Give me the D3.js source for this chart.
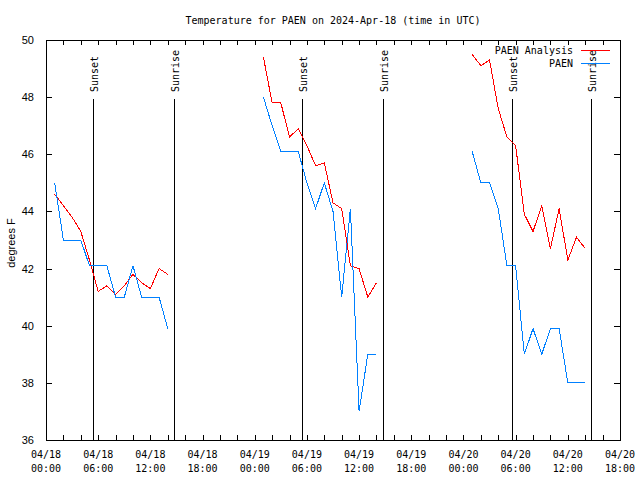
<!DOCTYPE html>
<html>
<head>
<meta charset="utf-8">
<script src="https://cdn.jsdelivr.net/npm/d3@7"></script>
<style>
  body { margin: 0; background: #fff; }
  svg { display: block; }
  .mono { font-family: "DejaVu Sans Mono", "Liberation Mono", monospace; font-size: 10px; fill: #000; }
  .sans { font-family: "Liberation Sans", Arial, sans-serif; font-size: 11px; fill: #000; }
</style>
</head>
<body>
<svg id="chart" width="640" height="480"></svg>
<script>
// ---- data ----
const days = ["2024-04-18", "2024-04-19", "2024-04-20"];
const hours = ["01:00","02:00","03:00","04:00","05:00","06:00","07:00","08:00","09:00","10:00","11:00","12:00","13:00","14:00"];
const analysisTemps = [
  [44.6, 44.2, 43.8, 43.3, 42.3, 41.2, 41.4, 41.1, 41.4, 41.8, 41.5, 41.3, 42.0, 41.8],
  [49.4, 47.8, 47.8, 46.6, 46.9, 46.3, 45.6, 45.7, 44.3, 44.1, 42.1, 42.0, 41.0, 41.5],
  [49.5, 49.1, 49.3, 47.6, 46.6, 46.3, 43.9, 43.3, 44.2, 42.7, 44.1, 42.3, 43.1, 42.7]
];
const paenTemps = [
  [45.0, 43.0, 43.0, 43.0, 42.1, 42.1, 42.1, 41.0, 41.0, 42.1, 41.0, 41.0, 41.0, 39.9],
  [48.0, 47.0, 46.1, 46.1, 46.1, 45.0, 44.1, 45.0, 44.0, 41.0, 44.1, 37.0, 39.0, 39.0],
  [46.1, 45.0, 45.0, 44.1, 42.1, 42.1, 39.0, 39.9, 39.0, 39.9, 39.9, 38.0, 38.0, 38.0]
];
const seriesNames = ["PAEN Analysis", "PAEN"];
const seriesColors = ["#ff0000", "#0080ff"];
const sunEvents = [
  { label: "Sunset",  time: "2024-04-18T05:30:00Z" },
  { label: "Sunrise", time: "2024-04-18T14:49:00Z" },
  { label: "Sunset",  time: "2024-04-19T05:32:00Z" },
  { label: "Sunrise", time: "2024-04-19T14:50:00Z" },
  { label: "Sunset",  time: "2024-04-20T05:40:00Z" },
  { label: "Sunrise", time: "2024-04-20T14:45:00Z" }
];
const xDomain = ["2024-04-18T00:00:00Z", "2024-04-20T18:00:00Z"];
const yDomain = [36, 50];
const yTicks = [36, 38, 40, 42, 44, 46, 48, 50];
const titleText = "Temperature for PAEN on 2024-Apr-18 (time in UTC)";
const yLabel = "degrees F";

// ---- layout ----
const L = 46, R = 620, T = 40, B = 440;
const svg = d3.select("#chart");
svg.append("rect").attr("width", 640).attr("height", 480).attr("fill", "#fff");

const x = d3.scaleUtc().domain(xDomain.map(d => new Date(d))).range([L, R]);
const y = d3.scaleLinear().domain(yDomain).range([B, T]);

// ticks
const minorTicks = d3.utcHour.every(2).range(x.domain()[0], new Date(+x.domain()[1] + 1));
const labelTicks = d3.utcHour.every(6).range(x.domain()[0], new Date(+x.domain()[1] + 1));

const gx = svg.append("g").attr("shape-rendering", "crispEdges");
// bottom axis ticks (inward)
const bottomAxis = d3.axisBottom(x).tickValues(minorTicks).tickSizeInner(-5).tickSizeOuter(0).tickFormat("");
svg.append("g").attr("transform", `translate(0,${B})`).call(bottomAxis)
  .call(g => g.select(".domain").remove())
  .call(g => g.selectAll("line").attr("stroke", "#000").attr("shape-rendering", "crispEdges"));
const topAxis = d3.axisTop(x).tickValues(minorTicks).tickSizeInner(-5).tickSizeOuter(0).tickFormat("");
svg.append("g").attr("transform", `translate(0,${T})`).call(topAxis)
  .call(g => g.select(".domain").remove())
  .call(g => g.selectAll("line").attr("stroke", "#000").attr("shape-rendering", "crispEdges"));

// bottom labels (two lines)
const fmtDate = d3.utcFormat("%m/%d"), fmtTime = d3.utcFormat("%H:%M");
const lbl = svg.append("g");
labelTicks.forEach(t => {
  const tx = lbl.append("text").attr("class", "mono").attr("text-anchor", "middle")
    .attr("x", x(t)).attr("y", 458);
  tx.append("tspan").attr("x", x(t)).attr("y", 458).text(fmtDate(t));
  tx.append("tspan").attr("x", x(t)).attr("y", 472).text(fmtTime(t));
});

// y axis
const leftAxis = d3.axisLeft(y).tickValues(yTicks).tickSizeInner(-6).tickSizeOuter(0).tickPadding(12).tickFormat(d3.format("d"));
svg.append("g").attr("transform", `translate(${L},0)`).call(leftAxis)
  .call(g => g.select(".domain").remove())
  .call(g => g.selectAll("line").attr("stroke", "#000").attr("shape-rendering", "crispEdges"))
  .call(g => g.selectAll("text").attr("class", "sans").attr("font-family", null).attr("font-size", null).attr("fill", "#000"));
const rightAxis = d3.axisRight(y).tickValues(yTicks).tickSizeInner(-6).tickSizeOuter(0).tickFormat("");
svg.append("g").attr("transform", `translate(${R},0)`).call(rightAxis)
  .call(g => g.select(".domain").remove())
  .call(g => g.selectAll("line").attr("stroke", "#000").attr("shape-rendering", "crispEdges"));

// sunrise / sunset lines
sunEvents.forEach(ev => {
  const xp = x(new Date(ev.time));
  svg.append("line").attr("x1", xp).attr("x2", xp).attr("y1", 99).attr("y2", B)
    .attr("stroke", "#000").attr("stroke-width", 1).attr("shape-rendering", "crispEdges");
  svg.append("text").attr("class", "mono")
    .attr("transform", `translate(${xp + 4.5},92) rotate(-90)`)
    .attr("text-anchor", "start").text(ev.label);
});

// series
const parseT = d3.utcParse("%Y-%m-%d %H:%M");
const line = d3.line().x(d => x(d.t)).y(d => y(d.v));
[analysisTemps, paenTemps].forEach((series, si) => {
  series.forEach((vals, di) => {
    const pts = vals.map((v, hi) => ({ t: parseT(days[di] + " " + hours[hi]), v }));
    svg.append("path").datum(pts).attr("d", line)
      .attr("fill", "none").attr("stroke", seriesColors[si]).attr("stroke-width", 1)
      .attr("shape-rendering", "crispEdges");
  });
});

// frame
svg.append("rect").attr("x", L + 0.5).attr("y", T + 0.5).attr("width", R - L).attr("height", B - T)
  .attr("fill", "none").attr("stroke", "#000").attr("shape-rendering", "crispEdges");

// title
svg.append("text").attr("class", "mono").attr("text-anchor", "middle")
  .attr("x", 333).attr("y", 24).text(titleText);

// y label
svg.append("text").attr("class", "sans").attr("text-anchor", "middle")
  .attr("transform", `translate(15,243) rotate(-90)`).text(yLabel);

// legend
seriesNames.forEach((name, i) => {
  const ly = 50 + i * 13;
  svg.append("text").attr("class", "mono").attr("text-anchor", "end")
    .attr("x", 573).attr("y", ly + 4).text(name);
  svg.append("line").attr("x1", 581).attr("x2", 610).attr("y1", ly + 0.5).attr("y2", ly + 0.5)
    .attr("stroke", seriesColors[i]).attr("shape-rendering", "crispEdges");
});
</script>
</body>
</html>
